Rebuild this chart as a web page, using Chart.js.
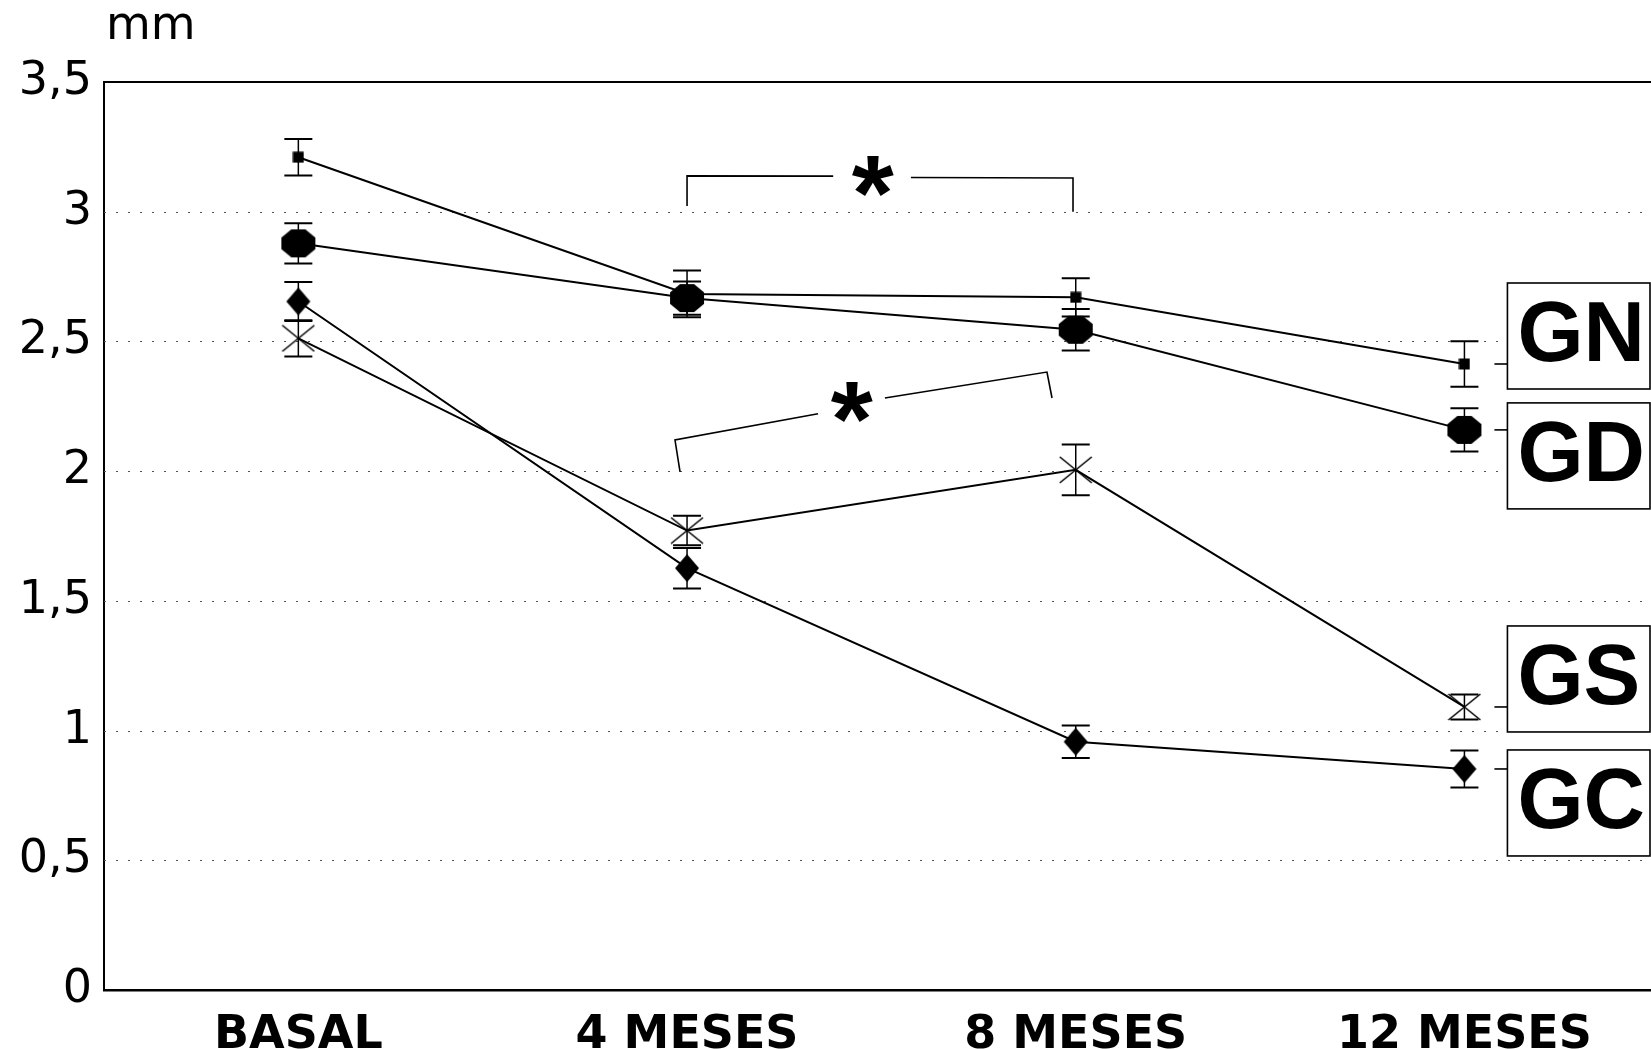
<!DOCTYPE html>
<html><head><meta charset="utf-8">
<script src="https://cdn.jsdelivr.net/npm/chart.js@4"></script>
<style>html,body{margin:0;padding:0;background:#fff;overflow:hidden}#wrap{width:1651px;height:1049px;position:relative}</style>
</head><body><div id="wrap"><canvas id="c" width="1651" height="1049"></canvas></div>
<script>
const categories = ['BASAL', '4 MESES', '8 MESES', '12 MESES'];
const seriesNames = ['GN', 'GD', 'GS', 'GC'];
const gnValues = [3.21, 2.683, 2.67, 2.413];
const gnErrors = [0.07, 0.09, 0.074, 0.088];
const gdValues = [2.878, 2.667, 2.545, 2.159];
const gdErrors = [0.078, 0.064, 0.08, 0.083];
const gsValues = [2.512, 1.771, 2.005, 1.091];
const gsErrors = [0.07, 0.057, 0.098, 0.048];
const gcValues = [2.654, 1.626, 0.957, 0.852];
const gcErrors = [0.075, 0.078, 0.063, 0.071];
const yTickValues = [0, 0.5, 1, 1.5, 2, 2.5, 3, 3.5];
const yTickLabels = ['0', '0,5', '1', '1,5', '2', '2,5', '3', '3,5'];
const yUnit = 'mm';
const significanceMark = '*';

// marker images
function makeCanvas(w, h, draw) {
  const c = document.createElement('canvas'); c.width = w; c.height = h;
  const g = c.getContext('2d'); draw(g, w / 2, h / 2); return c;
}
const squareMarker = makeCanvas(12, 12, (g) => { g.fillStyle = '#000'; g.fillRect(0.5, 0.5, 11, 11); });
const octMarker = makeCanvas(36, 30, (g, cx, cy) => {
  const a = 17, b = 14, ca = a * 0.586, cb = b * 0.586;
  g.fillStyle = '#000'; g.beginPath();
  g.moveTo(cx - a + ca, cy - b); g.lineTo(cx + a - ca, cy - b); g.lineTo(cx + a, cy - b + cb);
  g.lineTo(cx + a, cy + b - cb); g.lineTo(cx + a - ca, cy + b); g.lineTo(cx - a + ca, cy + b);
  g.lineTo(cx - a, cy + b - cb); g.lineTo(cx - a, cy - b + cb); g.closePath(); g.fill();
});
const diamondMarker = makeCanvas(26, 30, (g, cx, cy) => {
  g.fillStyle = '#000'; g.beginPath();
  g.moveTo(cx, cy - 14); g.lineTo(cx + 12, cy); g.lineTo(cx, cy + 14); g.lineTo(cx - 12, cy); g.closePath(); g.fill();
});
const xMarker = makeCanvas(34, 28, (g, cx, cy) => {
  g.strokeStyle = '#000'; g.lineWidth = 1.6; g.beginPath();
  g.moveTo(cx - 16, cy - 13); g.lineTo(cx + 16, cy + 13);
  g.moveTo(cx + 16, cy - 13); g.lineTo(cx - 16, cy + 13); g.stroke();
});

const allValues = [gnValues, gdValues, gsValues, gcValues];
const allErrors = [gnErrors, gdErrors, gsErrors, gcErrors];
const markers = [squareMarker, octMarker, xMarker, diamondMarker];
const boxOffsets = [-81, -27, -81, -19];

const datasets = allValues.map((vals, i) => ({
  label: seriesNames[i],
  data: vals.map((v, j) => ({ x: j, y: v })),
  borderColor: '#000', backgroundColor: '#000', borderWidth: 2,
  pointStyle: markers[i], pointRadius: 10, tension: 0, fill: false
}));

const decorPlugin = {
  id: 'decor',
  beforeDatasetsDraw(chart) {
    const { ctx, chartArea: a, scales: { x, y } } = chart;
    ctx.save();
    // dotted grid
    ctx.strokeStyle = '#555'; ctx.lineWidth = 1; ctx.setLineDash([2, 10]);
    yTickValues.forEach(v => {
      if (v <= 0 || v >= 3.5) return;
      const py = Math.round(y.getPixelForValue(v)) + 0.5;
      ctx.beginPath(); ctx.moveTo(a.left, py); ctx.lineTo(a.right, py); ctx.stroke();
    });
    ctx.setLineDash([]);
    // top border
    ctx.strokeStyle = '#000'; ctx.lineWidth = 2;
    const ty = y.getPixelForValue(3.5);
    ctx.beginPath(); ctx.moveTo(a.left, ty); ctx.lineTo(a.right, ty); ctx.stroke();
    // error bars
    allValues.forEach((vals, i) => {
      vals.forEach((v, j) => {
        const e = allErrors[i][j];
        const px = x.getPixelForValue(j);
        const p1 = y.getPixelForValue(v + e), p2 = y.getPixelForValue(v - e);
        ctx.lineWidth = 1.5;
        ctx.beginPath(); ctx.moveTo(px, p1); ctx.lineTo(px, p2); ctx.stroke();
        ctx.lineWidth = 2;
        ctx.beginPath(); ctx.moveTo(px - 14, p1); ctx.lineTo(px + 14, p1);
        ctx.moveTo(px - 14, p2); ctx.lineTo(px + 14, p2); ctx.stroke();
      });
    });
    ctx.restore();
  },
  afterDatasetsDraw(chart) {
    const { ctx, chartArea: a, scales: { x, y } } = chart;
    ctx.save();
    const P = (xv, yv) => [x.getPixelForValue(xv), y.getPixelForValue(yv)];
    const poly = (pts) => { ctx.beginPath(); pts.forEach((p, k) => { const q = P(p[0], p[1]); k ? ctx.lineTo(q[0], q[1]) : ctx.moveTo(q[0], q[1]); }); ctx.stroke(); };
    ctx.strokeStyle = '#000'; ctx.lineWidth = 1.6;
    // upper bracket (GN/GD)
    poly([[1.0, 3.022], [1.0, 3.138], [1.376, 3.137]]);
    poly([[1.576, 3.132], [1.993, 3.130], [1.993, 3.0]]);
    // lower bracket (GS)
    poly([[0.982, 1.997], [0.969, 2.120], [1.337, 2.221]]);
    poly([[1.509, 2.282], [1.926, 2.382], [1.939, 2.282]]);
    // asterisks
    ctx.fillStyle = '#000';
    ctx.font = 'bold 108px "Liberation Sans"';
    const m = ctx.measureText(significanceMark);
    const drawStar = (xv, yv) => {
      const [px, py] = P(xv, yv);
      const w = m.actualBoundingBoxRight + m.actualBoundingBoxLeft;
      const h = m.actualBoundingBoxAscent + m.actualBoundingBoxDescent;
      ctx.textBaseline = 'alphabetic'; ctx.textAlign = 'left';
      ctx.fillText(significanceMark, px - w / 2 + m.actualBoundingBoxLeft, py + h / 2 - m.actualBoundingBoxDescent);
    };
    drawStar(1.478, 3.137);
    drawStar(1.424, 2.263);
    // series label boxes
    allValues.forEach((vals, i) => {
      const last = vals.length - 1;
      const px = x.getPixelForValue(last);
      const py = y.getPixelForValue(vals[last]);
      const left = px + 43, top = py + boxOffsets[i], h = 106, right = a.right - 1;
      ctx.lineWidth = 1.6;
      ctx.beginPath(); ctx.moveTo(px + 30, py); ctx.lineTo(left, py); ctx.stroke();
      ctx.fillStyle = '#fff'; ctx.fillRect(left, top, right - left, h);
      ctx.strokeRect(left, top, right - left, h);
      ctx.fillStyle = '#000'; ctx.font = 'bold 85px "Liberation Sans"';
      ctx.textAlign = 'left'; ctx.textBaseline = 'alphabetic';
      ctx.fillText(seriesNames[i], left + 10, top + 78);
    });
    ctx.restore();
  },
  afterDraw(chart) {
    const { ctx } = chart;
    ctx.save();
    ctx.fillStyle = '#000'; ctx.font = '46px "DejaVu Sans"';
    ctx.textAlign = 'left'; ctx.textBaseline = 'alphabetic';
    ctx.fillText(yUnit, 106, 39);
    ctx.restore();
  }
};

new Chart(document.getElementById('c'), {
  type: 'line',
  data: { datasets },
  plugins: [decorPlugin],
  options: {
    responsive: false, animation: false, events: [],
    layout: { autoPadding: false, padding: { top: 82, right: 0, left: 0, bottom: 0 } },
    plugins: { legend: { display: false }, tooltip: { enabled: false } },
    scales: {
      x: {
        type: 'linear', min: -0.5, max: 3.48,
        afterBuildTicks: (s) => { s.ticks = categories.map((c, i) => ({ value: i })); },
        afterFit: (s) => { s.height = 59; s.paddingLeft = 0; s.paddingRight = 0; },
        grid: { display: false },
        border: { display: true, color: '#000', width: 2.5 },
        ticks: {
          color: '#000', padding: 10, maxRotation: 0, autoSkip: false,
          font: { family: 'DejaVu Sans', size: 46, weight: 'bold' },
          callback: (v) => categories[v]
        }
      },
      y: {
        type: 'linear', min: 0, max: 3.5,
        afterBuildTicks: (s) => { s.ticks = yTickValues.map(v => ({ value: v })); },
        afterFit: (s) => { s.width = 104; },
        grid: { display: false },
        border: { display: true, color: '#000', width: 2 },
        ticks: {
          color: '#000', padding: 4,
          font: { family: 'DejaVu Sans', size: 46 },
          callback: (v) => yTickLabels[yTickValues.indexOf(v)]
        }
      }
    }
  }
});
</script></body></html>
